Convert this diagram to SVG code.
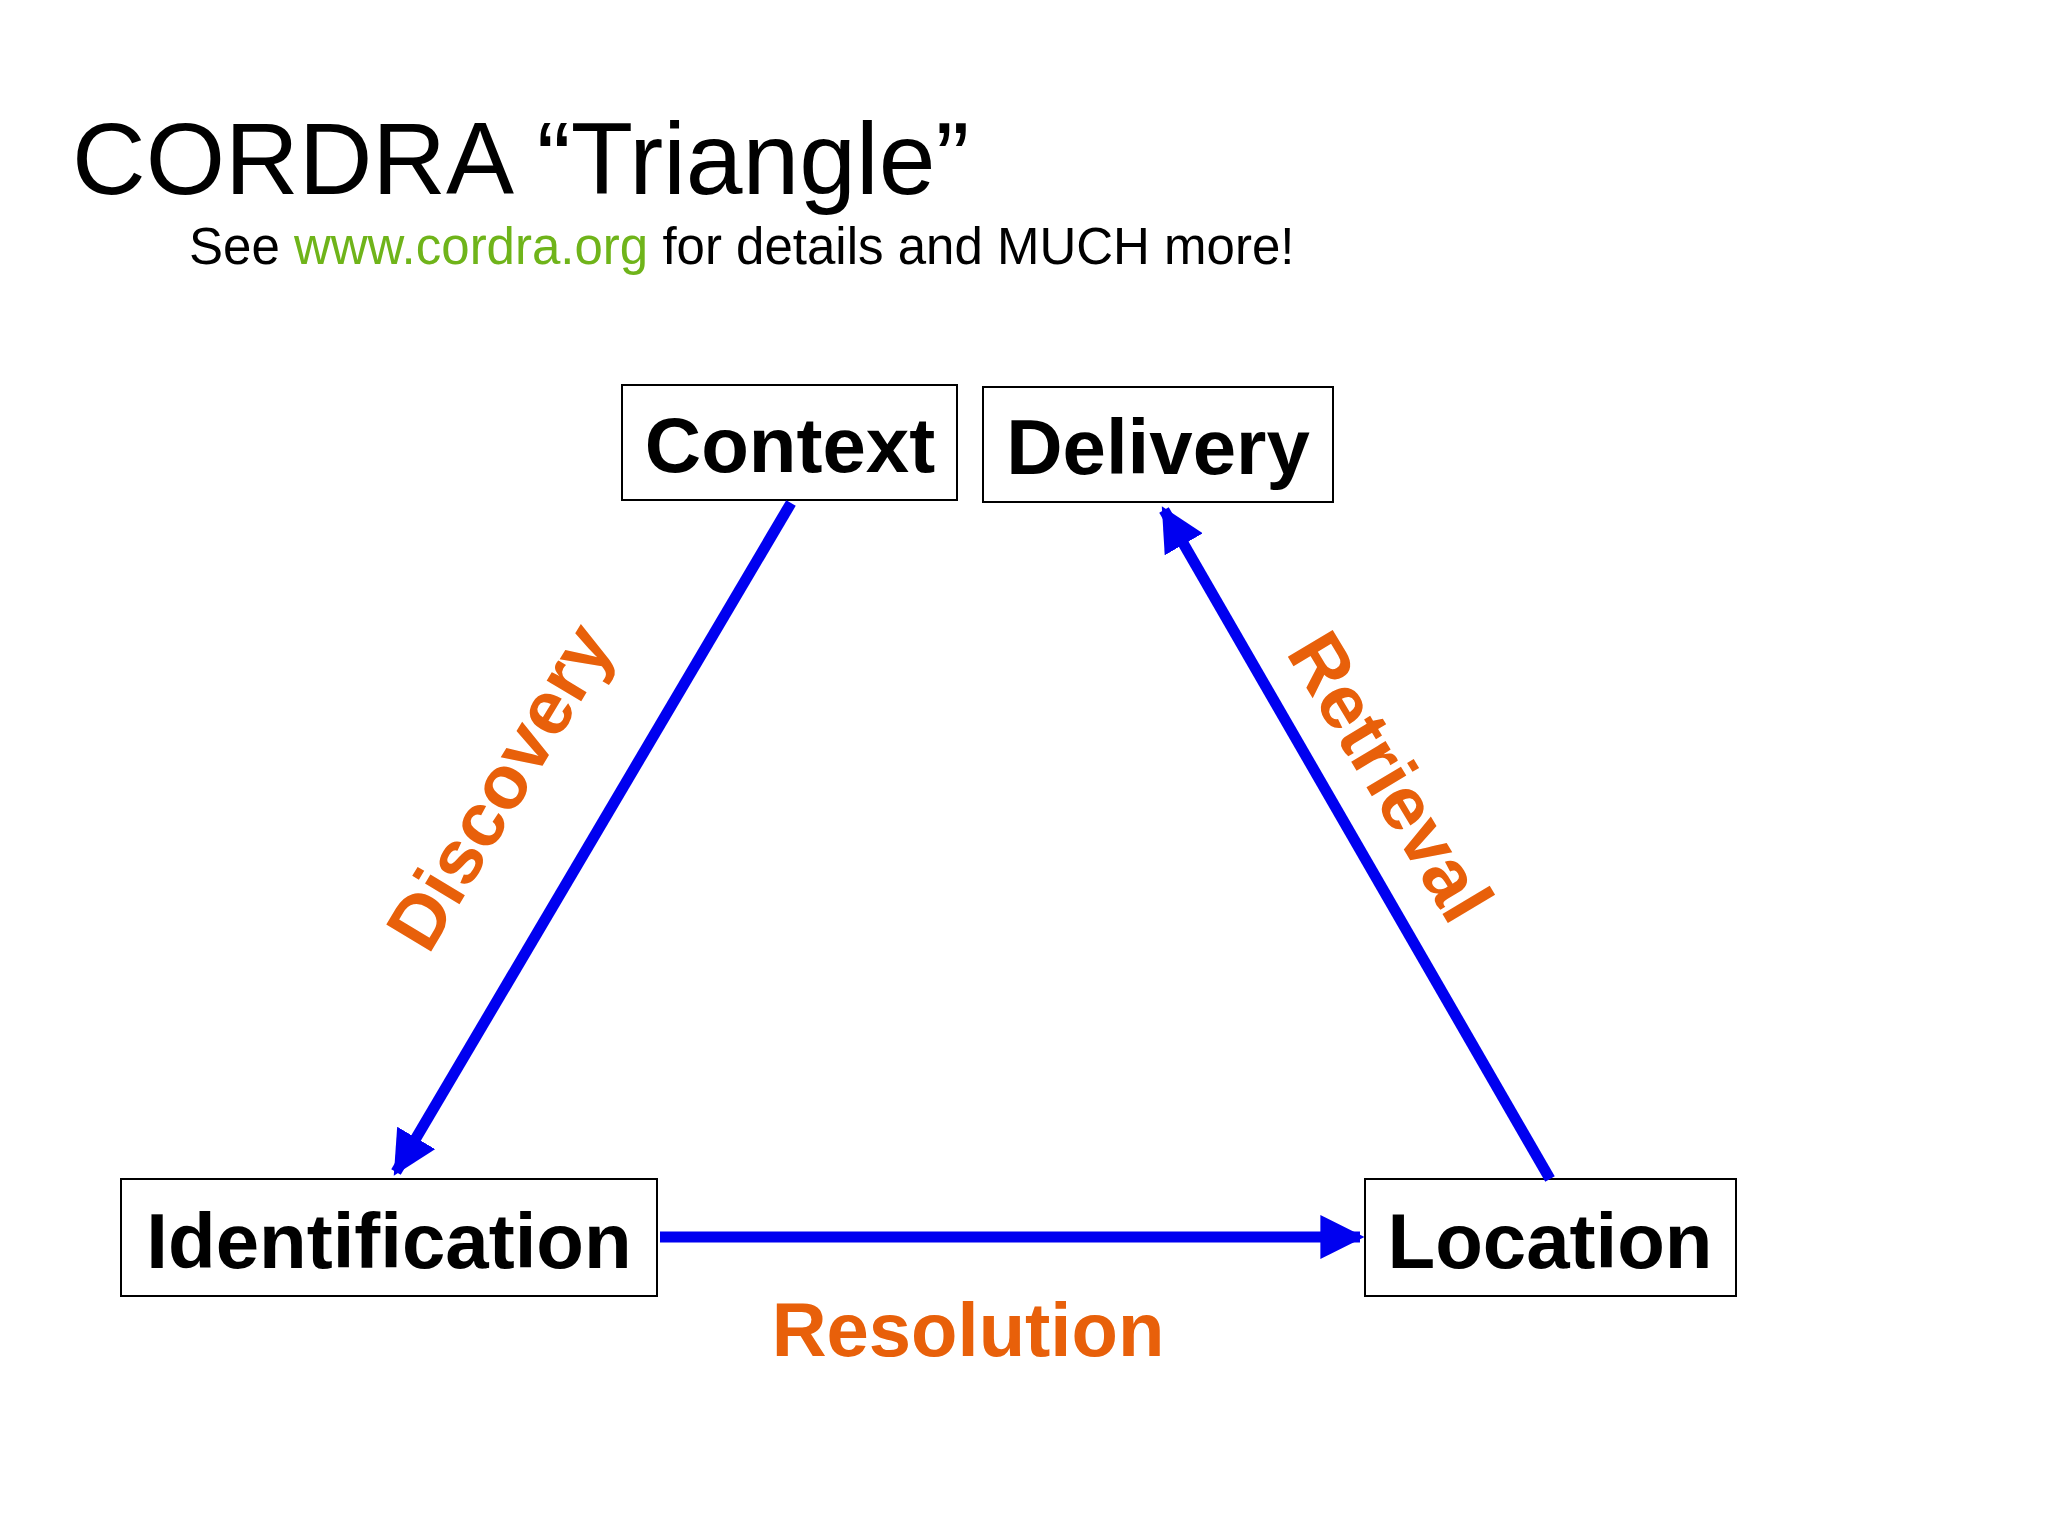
<svg xmlns="http://www.w3.org/2000/svg" width="2048" height="1536" viewBox="0 0 2048 1536">
<defs>
<style>
.box{fill:#fff;stroke:#000;stroke-width:2}
.bt{font-family:"Liberation Sans",Arial,sans-serif;font-weight:bold;font-size:78px;fill:#000;text-anchor:middle}
.lbl{font-family:"Liberation Sans",Arial,sans-serif;font-weight:bold;font-size:76px;fill:#E8600A;text-anchor:middle}
.c{stroke:#0000F0;stroke-width:11;fill:none;marker-end:url(#a)}
</style>
<marker id="a" viewBox="0 0 10 10" refX="9" refY="5" markerWidth="4" markerHeight="4" orient="auto" markerUnits="strokeWidth"><path d="M0,0L10,5L0,10z" fill="#0000F0"/></marker>
</defs>
<rect width="2048" height="1536" fill="#fff"/>
<text x="72" y="194" font-family="Liberation Sans,Arial,sans-serif" font-size="102">CORDRA “Triangle”</text>
<text x="189" y="264" font-family="Liberation Sans,Arial,sans-serif" font-size="51">See <tspan fill="#6FB41A">www.cordra.org</tspan> for details and MUCH more!</text>
<g id="context"><rect class="box" x="622" y="385" width="335" height="115"/><text class="bt" x="790" y="472">Context</text></g>
<g id="delivery"><rect class="box" x="983" y="387" width="350" height="115"/><text class="bt" x="1158" y="474">Delivery</text></g>
<g id="identification"><rect class="box" x="121" y="1179" width="536" height="117"/><text class="bt" x="389" y="1268">Identification</text></g>
<g id="location"><rect class="box" x="1365" y="1179" width="371" height="117"/><text class="bt" x="1550" y="1268">Location</text></g>
<g id="connectors">
<line class="c" x1="791" y1="503" x2="396" y2="1172"/>
<line class="c" x1="1550" y1="1179" x2="1164" y2="510"/>
<line class="c" x1="660" y1="1237" x2="1360" y2="1237"/>
</g>
<text class="lbl" transform="translate(522,800) rotate(-59)">Discovery</text>
<text class="lbl" transform="translate(1368,790) rotate(59)">Retrieval</text>
<text class="lbl" x="968" y="1356">Resolution</text>
</svg>
